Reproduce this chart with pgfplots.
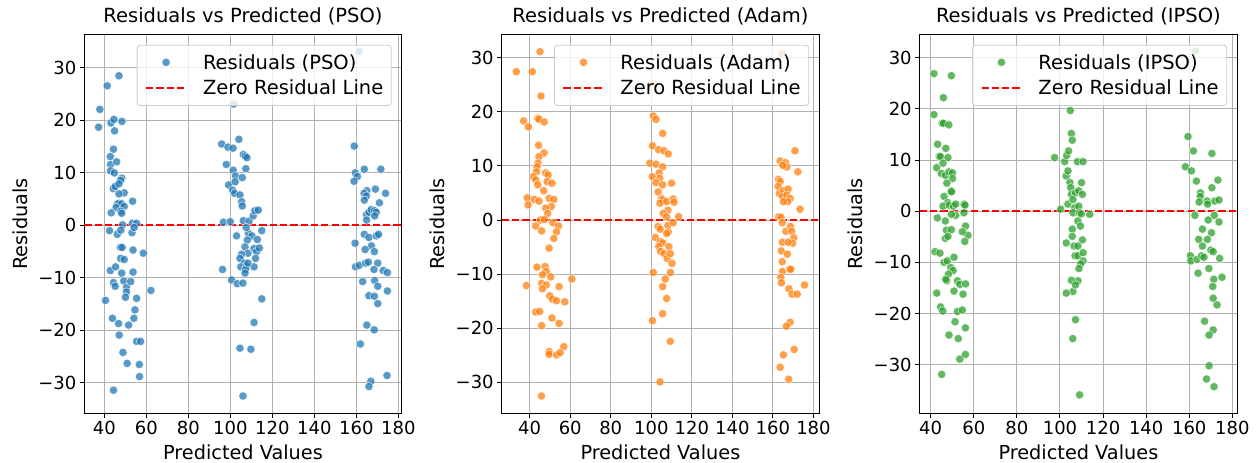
\documentclass[border=0pt]{standalone}
\usepackage{fontspec}
\setmainfont{DejaVu Sans}
\usepackage{pgfplots}
\pgfplotsset{compat=1.18}

\definecolor{tabblue}{HTML}{1F77B4}
\definecolor{taborange}{HTML}{FF7F0E}
\definecolor{tabgreen}{HTML}{2CA02C}
\definecolor{gridgray}{HTML}{B0B0B0}
\definecolor{legedge}{HTML}{CCCCCC}

\pgfplotsset{
  resid/.style={
    scale only axis, width=317.4pt, height=379pt,
    anchor=south west,
    axis line style={black, line width=1pt},
    tick align=outside, tick pos=left,
    major tick length=4.5pt,
    every tick/.style={black, line width=1pt},
    grid=major,
    major grid style={draw=gridgray, line width=1pt},
    xtick={40,60,...,180},
    xticklabels={40,60,80,100,120,140,160,180},
    ytick={-30,-20,...,30},
    yticklabels={−30,−20,−10,0,10,20,30},
    ticklabel style={font=\fontsize{18}{21}\selectfont},
    label style={font=\fontsize{19.3}{23}\selectfont},
    title style={font=\fontsize{19.5}{23}\selectfont, at={(axis description cs:0.5,1)}, anchor=base, yshift=6pt},
    xlabel style={at={(axis description cs:0.5,0)}, anchor=base, yshift=-46pt},
    ylabel style={at={([xshift=-57pt]axis description cs:0,0.5)}, anchor=base},
    xlabel={Predicted Values}, ylabel={Residuals},
    legend style={at={([xshift=-10pt,yshift=-10.5pt]axis description cs:1,1)},
      anchor=north east, draw=legedge, line width=0.8pt, rounded corners=3pt,
      fill=white, fill opacity=0.8, text opacity=1,
      font=\fontsize{19.5}{22}\selectfont,
      inner xsep=8pt, inner ysep=9pt, row sep=9.6pt, column sep=16pt,
      nodes={inner sep=0pt}},
    legend cell align=left,
  },
  pts/.style={only marks, mark=*, mark size=4.2pt, opacity=0.75,
    mark options={fill=#1, draw=white, line width=0.6pt},
    legend image code/.code={\draw[mark repeat=2,mark phase=2,##1] plot coordinates {(0pt,0pt) (20pt,0pt) (40pt,0pt)};}},
  zeroline/.style={red, line width=1.9pt, dash pattern=on 7.2pt off 3.1pt,
    legend image code/.code={\draw[##1] (0pt,0pt) -- (40pt,0pt);}},
}

\begin{document}
\begin{tikzpicture}
\useasboundingbox (0,0) rectangle (1258pt,463pt);

% PSO
\begin{axis}[resid, at={(84.3pt,49.7pt)},
  xmin=30.5, xmax=181.6, ymin=-35.8, ymax=36.4,
  title={Residuals vs Predicted (PSO)}]
\addplot[pts=tabblue] coordinates {
(37.3,18.7)(37.9,22.1)(41.4,26.6)(47.0,28.5)(43.2,19.5)(44.6,20.2)(48.4,19.8)(44.9,18.0)
(44.4,14.5)(42.9,13.1)(43.0,11.6)(45.9,12.1)(43.0,10.4)(44.8,10.0)(48.4,9.0)(47.8,8.6)
(44.3,7.0)(45.2,7.4)(47.0,7.9)(49.5,6.2)(47.0,6.0)(46.2,4.1)(47.0,4.2)(48.3,4.1)(53.5,4.6)
(45.6,3.4)(49.5,3.6)(43.3,2.4)(47.9,2.7)(48.3,2.3)(48.7,0.1)(53.4,0.4)(55.4,0.4)(42.5,-1.0)
(46.2,-1.7)(47.9,-0.9)(53.2,-1.4)(54.2,-0.4)(47.7,-4.2)(48.5,-4.2)(53.7,-4.7)(58.6,-5.3)
(47.8,-6.3)(49.5,-6.5)(42.9,-8.6)(45.4,-7.9)(48.3,-9.1)(53.7,-8.9)(44.4,-10.9)(45.2,-11.6)
(49.3,-10.6)(50.6,-11.8)(52.6,-10.7)(50.6,-12.7)(50.1,-13.7)(62.2,-12.4)(40.6,-14.3)
(55.4,-13.9)(54.6,-16.1)(43.9,-17.7)(54.1,-17.7)(46.8,-18.7)(51.6,-19.0)(47.1,-20.9)
(55.4,-22.1)(57.3,-22.1)(48.9,-24.2)(50.9,-26.3)(56.7,-26.5)(56.8,-28.8)(44.4,-31.4)
(95.9,15.5)(98.9,14.9)(101.3,14.7)(104.1,16.4)(98.1,11.6)(101.4,10.5)(102.5,9.4)(106.2,13.5)
(107.1,13.2)(107.9,12.9)(107.4,10.8)(99.2,7.7)(101.1,6.7)(102.1,6.1)(102.3,8.3)(105.7,9.1)
(104.6,5.8)(105.4,4.5)(105.7,3.7)(96.7,0.6)(100.0,0.7)(106.2,0.9)(108.9,0.8)(110.9,1.8)
(111.7,2.8)(113.3,2.9)(103.0,-2.0)(108.6,-1.5)(107.6,-0.4)(110.3,-2.0)(112.9,-2.7)(115.0,-1.0)
(108.1,-2.8)(107.0,-4.1)(108.4,-5.3)(105.4,-5.5)(104.6,-6.3)(106.7,-7.2)(105.0,-7.9)
(107.6,-7.9)(107.3,-8.4)(111.3,-4.4)(112.5,-5.0)(113.8,-4.3)(112.0,-6.3)(111.3,-7.9)
(108.4,-7.2)(107.0,-9.1)(96.3,-8.4)(100.6,-10.4)(103.3,-11.1)(106.0,-11.0)(115.0,-14.0)
(111.3,-18.5)(104.6,-23.4)(109.8,-23.6)(106.0,-32.5)(101.6,23.1)
(159.0,15.1)(159.5,10.0)(160.5,9.3)(158.9,8.4)(163.8,10.7)(171.7,10.7)(173.9,6.1)(169.1,6.9)
(165.0,6.6)(163.7,6.1)(164.8,5.6)(163.8,4.8)(171.0,4.3)(164.8,2.0)(166.0,2.5)(167.1,3.0)
(168.7,2.8)(169.5,2.5)(168.7,1.8)(164.9,1.0)(159.4,-3.4)(163.8,-1.7)(166.0,-2.3)(169.5,-2.0)
(170.6,-1.7)(167.2,-3.9)(164.2,-4.6)(168.6,-5.0)(159.6,-7.9)(161.4,-7.6)(164.4,-7.2)
(165.7,-7.0)(170.2,-7.2)(168.4,-8.4)(172.8,-8.6)(174.8,-9.0)(163.0,-10.7)(168.7,-10.5)
(170.2,-11.6)(174.8,-12.5)(166.0,-13.4)(168.6,-13.5)(170.2,-14.9)(165.0,-19.0)(168.5,-19.9)
(161.9,-22.6)(166.9,-29.7)(166.0,-30.7)(174.6,-28.6)(161.3,33.1)
};
\addlegendentry{Residuals (PSO)}
\addplot[zeroline] coordinates {(30.5,0) (181.6,0)};
\addlegendentry{Zero Residual Line}
\end{axis}

% Adam
\begin{axis}[resid, at={(501.7pt,49.7pt)},
  xmin=26.2, xmax=182.8, ymin=-35.7, ymax=34.3,
  title={Residuals vs Predicted (Adam)}]
\addplot[pts=taborange] coordinates {
(33.4,27.4)(41.3,27.4)(45.1,31.1)(45.6,22.9)(37.0,18.3)(39.3,17.2)(44.0,18.8)(44.6,18.6)
(47.2,18.1)(44.4,13.8)(47.1,12.4)(44.6,11.7)(44.1,10.5)(43.6,9.8)(43.3,8.9)(41.8,8.0)
(43.0,7.4)(44.0,6.5)(47.9,8.7)(49.1,8.3)(48.6,7.1)(51.0,6.8)(46.9,5.4)(38.8,4.1)(39.2,2.8)
(42.3,3.8)(44.6,3.5)(49.6,4.0)(51.9,3.8)(50.7,2.5)(47.9,2.2)(48.9,1.2)(45.3,0.0)(47.2,0.1)
(43.0,-1.1)(45.9,-2.0)(51.5,-0.5)(54.2,-1.1)(53.2,-2.2)(51.9,-3.4)(49.6,-5.2)(43.6,-8.7)
(47.6,-8.6)(48.2,-9.5)(46.3,-10.1)(50.4,-10.5)(45.9,-11.7)(48.2,-12.0)(46.3,-12.7)
(54.5,-12.3)(60.8,-10.9)(38.4,-12.1)(49.9,-14.0)(51.2,-14.6)(53.2,-14.9)(57.3,-15.1)
(43.0,-17.0)(44.9,-16.9)(51.0,-18.1)(45.9,-19.5)(54.5,-19.1)(56.8,-23.4)(49.6,-24.3)
(49.6,-24.8)(53.3,-24.9)(55.0,-24.5)(45.8,-32.5)
(101.0,19.2)(102.3,18.6)(105.6,16.0)(100.6,13.7)(103.6,13.0)(106.2,12.8)(108.4,12.2)
(99.3,10.5)(102.3,10.3)(105.6,9.8)(103.9,8.7)(100.5,8.0)(104.2,7.7)(102.3,6.9)(105.6,6.5)
(110.0,6.8)(103.4,5.2)(105.0,4.0)(105.6,3.7)(104.3,3.1)(107.6,3.4)(110.8,3.9)(111.2,3.3)
(108.2,1.8)(113.5,0.6)(105.9,1.2)(107.5,0.6)(103.4,-1.2)(104.4,-1.7)(102.0,-3.2)(108.2,-1.0)
(110.8,-0.5)(108.4,-2.2)(107.6,-2.5)(104.4,-4.0)(105.6,-4.2)(103.7,-4.9)(104.6,-5.8)
(106.3,-6.2)(107.9,-7.1)(108.7,-4.9)(109.4,-6.2)(110.2,-8.0)(109.4,-9.7)(101.0,-9.7)
(106.9,-10.9)(105.6,-12.3)(107.6,-14.5)(105.6,-17.3)(100.6,-18.6)(109.4,-22.4)(104.3,-29.9)
(100.6,25.2)
(163.6,10.9)(166.2,10.6)(166.9,9.8)(164.9,10.1)(170.9,12.8)(172.3,8.9)(162.8,7.5)(163.6,7.1)
(162.6,6.2)(163.2,4.9)(165.2,5.4)(164.7,4.3)(167.5,5.7)(166.9,4.6)(168.5,4.0)(167.3,3.4)
(165.2,3.4)(173.4,2.0)(162.8,0.6)(164.0,0.5)(164.6,-0.5)(166.4,-2.1)(168.7,-1.2)(169.3,-2.1)
(170.3,-3.3)(169.7,-4.3)(164.7,-4.1)(167.5,-4.1)(164.1,-5.7)(164.6,-7.7)(167.1,-6.3)
(164.7,-9.5)(168.2,-9.1)(168.8,-9.1)(163.9,-10.6)(164.2,-11.6)(167.9,-12.7)(169.5,-13.7)
(172.0,-13.7)(175.6,-12.0)(168.5,-18.9)(166.7,-19.6)(170.5,-23.9)(165.2,-24.9)(163.6,-27.2)
(167.8,-29.4)(164.4,30.8)
};
\addlegendentry{Residuals (Adam)}
\addplot[zeroline] coordinates {(26.2,0) (182.8,0)};
\addlegendentry{Zero Residual Line}
\end{axis}

% IPSO
\begin{axis}[resid, at={(919.7pt,49.7pt)},
  xmin=34.9, xmax=182.2, ymin=-39.5, ymax=34.6,
  title={Residuals vs Predicted (IPSO)}]
\addplot[pts=tabgreen] coordinates {
(41.5,26.9)(49.6,26.5)(45.9,22.2)(41.5,18.9)(45.3,17.2)(45.9,17.2)(48.4,16.9)(43.2,13.1)
(47.0,12.3)(44.0,10.7)(44.5,10.7)(48.0,10.5)(42.8,8.5)(45.7,9.4)(44.9,7.4)(46.8,7.0)
(48.5,7.7)(50.1,7.5)(50.1,6.4)(47.5,5.5)(49.6,4.0)(49.6,3.8)(46.2,2.9)(47.9,1.7)(45.7,1.0)
(48.6,1.2)(50.5,1.0)(51.6,1.4)(55.5,1.4)(55.9,1.2)(43.1,-1.3)(51.6,-0.8)(49.6,-0.6)
(55.4,-0.3)(46.8,-1.9)(56.2,-2.9)(57.3,-4.7)(47.3,-3.7)(49.6,-3.6)(46.8,-5.3)(48.0,-4.9)
(54.7,-4.0)(55.8,-5.9)(42.0,-7.9)(44.3,-8.2)(46.2,-10.0)(47.7,-9.7)(50.8,-9.0)(49.3,-11.0)
(50.4,-11.6)(48.2,-12.3)(47.4,-13.6)(47.0,-13.3)(52.4,-13.6)(53.5,-14.3)(56.2,-14.2)
(50.8,-15.6)(55.0,-16.2)(42.8,-16.0)(44.6,-18.7)(45.6,-19.5)(52.4,-19.6)(54.7,-19.3)
(51.3,-21.6)(56.1,-22.8)(48.5,-24.2)(52.8,-24.9)(53.5,-28.9)(56.1,-28.0)(45.1,-31.9)
(104.8,19.7)(97.5,10.5)(102.2,9.7)(103.1,10.9)(104.0,11.8)(105.3,15.2)(105.7,13.9)
(108.1,9.7)(110.7,9.7)(102.9,6.9)(103.7,7.9)(104.6,5.6)(105.0,4.6)(110.0,5.6)(105.3,3.3)
(107.2,3.6)(108.7,4.0)(110.4,3.3)(103.7,1.4)(100.3,0.4)(106.0,2.3)(106.8,0.7)(108.7,1.0)
(106.0,-0.3)(109.0,-0.3)(109.9,-0.5)(113.8,-0.6)(108.3,-1.9)(109.5,-2.9)(105.7,-3.5)
(110.4,-5.6)(102.9,-6.2)(105.7,-4.9)(106.5,-6.8)(108.3,-6.8)(107.0,-8.7)(108.3,-8.7)
(110.7,-8.1)(110.7,-9.7)(109.6,-10.3)(108.8,-11.2)(108.3,-13.6)(105.3,-13.5)(106.0,-15.7)
(107.2,-14.4)(102.9,-16.0)(107.2,-21.2)(105.9,-24.9)(109.1,-35.9)
(159.4,14.6)(161.9,11.8)(158.2,8.7)(161.0,7.9)(163.3,5.9)(170.5,11.3)(173.3,6.1)(165.2,3.6)
(165.1,2.9)(164.6,1.8)(168.3,2.0)(168.5,1.4)(170.5,4.6)(171.9,2.0)(173.8,2.2)(162.6,-0.8)
(171.6,-0.8)(168.8,-1.7)(173.8,-2.1)(166.1,-3.5)(170.3,-4.2)(164.4,-5.5)(168.4,-5.5)
(166.1,-6.8)(170.0,-7.6)(171.1,-7.9)(160.5,-8.7)(160.7,-9.7)(163.6,-9.4)(165.7,-8.7)
(166.8,-9.0)(174.1,-9.2)(164.1,-12.1)(169.1,-11.2)(171.4,-13.3)(175.2,-12.9)(170.9,-14.7)
(171.1,-17.0)(172.9,-18.3)(167.1,-21.5)(171.1,-23.2)(169.2,-24.2)(169.2,-30.2)(168.0,-32.8)
(171.5,-34.3)(162.8,31.3)
};
\addlegendentry{Residuals (IPSO)}
\addplot[zeroline] coordinates {(34.9,0) (182.2,0)};
\addlegendentry{Zero Residual Line}
\end{axis}
\end{tikzpicture}
\end{document}
